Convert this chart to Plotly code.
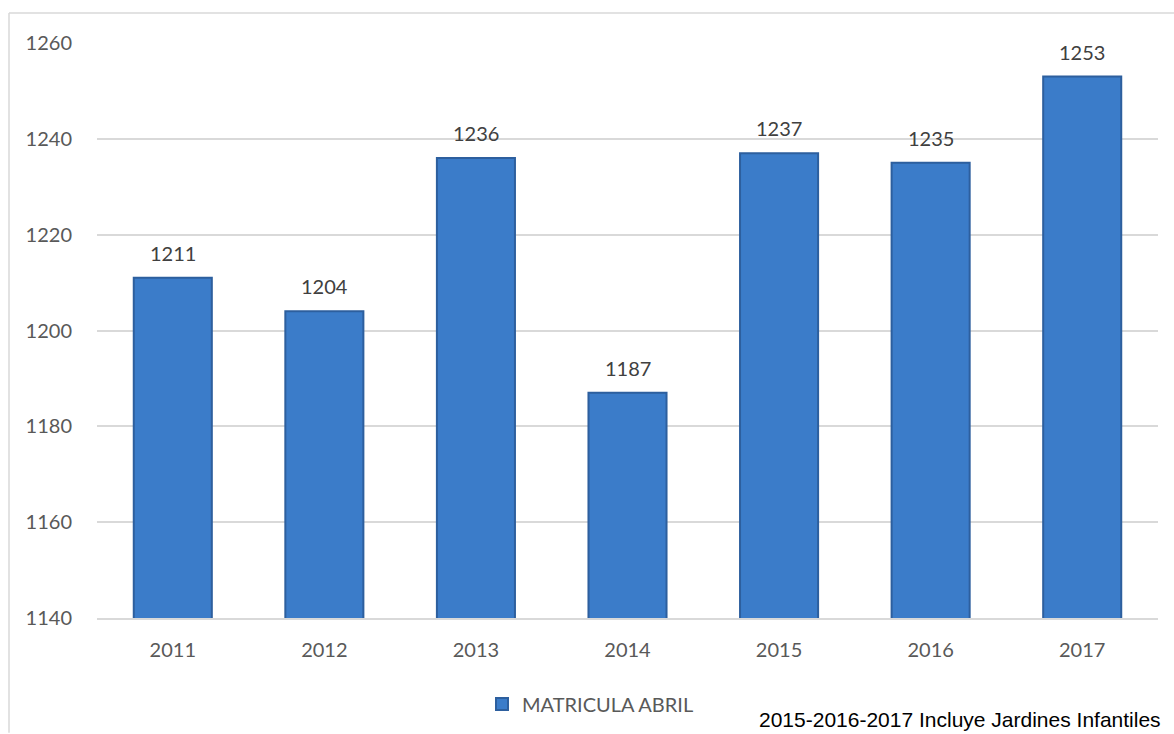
import plotly.graph_objects as go

years = ["2011", "2012", "2013", "2014", "2015", "2016", "2017"]
matricula = [1211, 1204, 1236, 1187, 1237, 1235, 1253]
series_name = "MATRICULA ABRIL"
note = "2015-2016-2017 Incluye Jardines Infantiles"
y_ticks = [1140, 1160, 1180, 1200, 1220, 1240, 1260]

W, H = 1174, 734
L, R, T, B = 97, 16, 43, 115
pw, ph = W - L - R, H - T - B

def px(x):
    return (x - L) / pw

def py(y):
    return (H - B - y) / ph

FONT = "Lato, Open Sans, sans-serif"

fig = go.Figure()
fig.add_trace(go.Bar(
    x=years, y=matricula, name=series_name,
    marker=dict(color="#3B7CC9", line=dict(color="#2D5F9E", width=2)),
    showlegend=True,
))

for i, v in enumerate(matricula):
    fig.add_annotation(x=i, y=v, text=str(v), showarrow=False,
                       yanchor="bottom", yshift=11,
                       font=dict(family=FONT, size=20, color="#404040"))

fig.add_annotation(xref="paper", yref="paper", x=px(1163), y=py(721),
                   xanchor="right", yanchor="middle", showarrow=False,
                   text=note, font=dict(family="Liberation Sans, Arial, sans-serif", size=21, color="#000000"))

# chart border (left and top)
fig.add_shape(type="line", xref="paper", yref="paper",
              x0=px(9), x1=px(9), y0=py(13), y1=py(H), line=dict(color="#D9D9D9", width=1.5))
fig.add_shape(type="line", xref="paper", yref="paper",
              x0=px(9), x1=px(W), y0=py(13), y1=py(13), line=dict(color="#D9D9D9", width=1.5))

fig.update_layout(
    width=W, height=H,
    margin=dict(l=L, r=R, t=T, b=B),
    paper_bgcolor="white", plot_bgcolor="white",
    bargap=0.485,
    font=dict(family=FONT, size=20, color="#595959"),
    legend=dict(orientation="h", x=px(482), xanchor="left", y=py(704), yanchor="middle",
                font=dict(family=FONT, size=20, color="#595959")),
    showlegend=True,
)
fig.update_yaxes(range=[1140, 1260], tickvals=y_ticks, showgrid=True, gridcolor="#D9D9D9",
                 gridwidth=1.5, zeroline=False, showline=False, ticks="", ticklabelstandoff=24)
fig.update_xaxes(type="category", range=[-0.5, len(years) - 0.5], showgrid=False, showline=True,
                 linecolor="#D9D9D9", linewidth=1.5, ticks="", ticklabelstandoff=13)

fig.write_html("out.html", config={"displayModeBar": False},
               post_script="document.body.style.margin='0px';")
